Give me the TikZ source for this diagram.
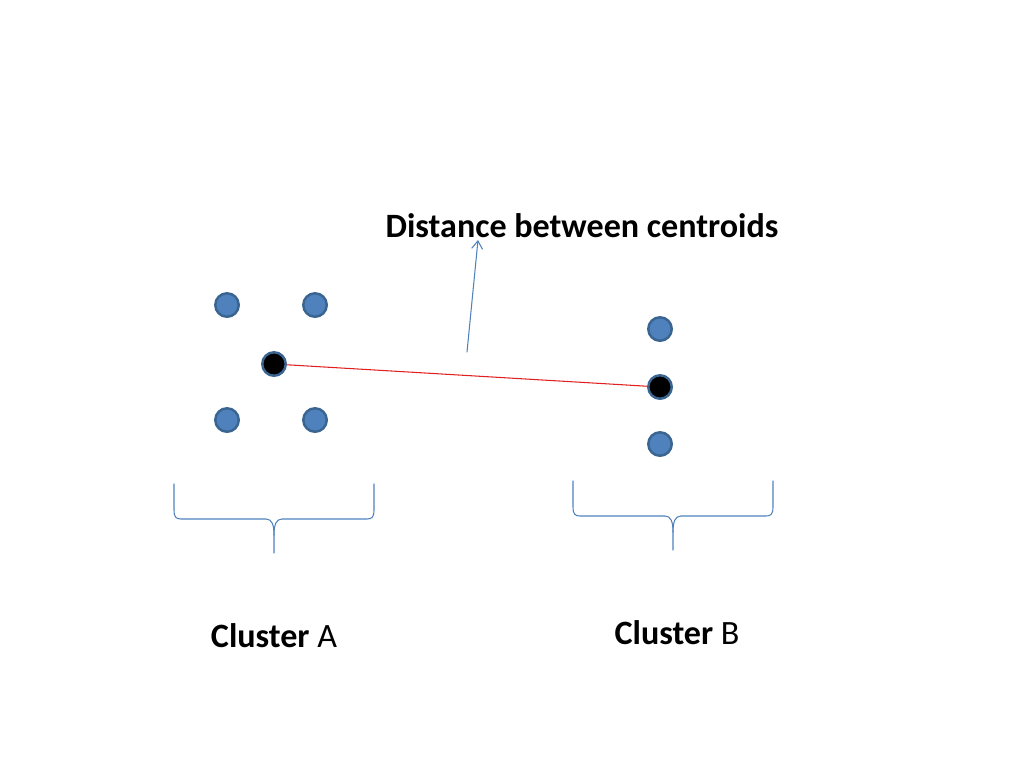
\documentclass[tikz,border=0pt]{standalone}
\usepackage{fontspec}
\setmainfont{Carlito}
\usetikzlibrary{%
  arrows.meta,%
  calc,%
  positioning% wg. " of "
}
\definecolor{ptfill}{HTML}{4F81BD}
\definecolor{ptline}{HTML}{3A6591}
\definecolor{linkred}{HTML}{E02020}

\begin{document}
\begin{tikzpicture}[
    x=0.02cm,y=-0.02cm,
    >={Straight Barb[length=1.6mm,width=2.2mm]},line join=round,line cap=round,
    point/.style={circle,draw=ptline,fill=ptfill,line width=1.4pt,
        minimum size=4.7mm,inner sep=0pt},
    centroid/.style={point,fill=black},
    brace/.style={draw=ptfill,line width=0.6pt},
    label/.style={font=\fontsize{19.4}{23}\selectfont,inner sep=0pt}
  ]
    \useasboundingbox (0,0) rectangle (1024,768);

    % cluster A
    \node[point]    (a1) at (227,305) {};
    \node[point]    (a2) at (315,305) {};
    \node[centroid] (cA) at (274,364) {};
    \node[point]    (a3) at (227,420) {};
    \node[point]    (a4) at (315,420) {};

    % cluster B
    \node[point]    (b1) at (660,329) {};
    \node[centroid] (cB) at (660,387) {};
    \node[point]    (b2) at (660,444) {};

    \draw[linkred,line width=0.6pt] (cA) -- (cB);

    \node[label] (title) at (582,226) {\textbf{Distance between centroids}};
    \coordinate (arrowfoot) at (467,352);
    \coordinate (arrowtip)  at (478,240);
    \draw[->,ptfill,line width=0.6pt] (arrowfoot) -- (arrowtip);

    % braces
    \coordinate (braceA) at (274,553);
    \coordinate (braceB) at (673,550);
    \foreach \b in {braceA,braceB} {
      \draw[brace,shift={(\b)}]
        (-100,-69) -- (-100,-43) .. controls (-100,-36) and (-98,-34) .. (-93,-34)
        -- (-8,-34) .. controls (-2,-34) and (0,-28) .. (0,-18) -- (0,0);
      \draw[brace,shift={(\b)}]
        (100,-69) -- (100,-43) .. controls (100,-36) and (98,-34) .. (93,-34)
        -- (8,-34) .. controls (2,-34) and (0,-28) .. (0,-18);
    }

    \node[label] (labelA) at (274,636) {\textbf{Cluster} A};
    \node[label] (labelB) at (677,633) {\textbf{Cluster} B};
\end{tikzpicture}
\end{document}
